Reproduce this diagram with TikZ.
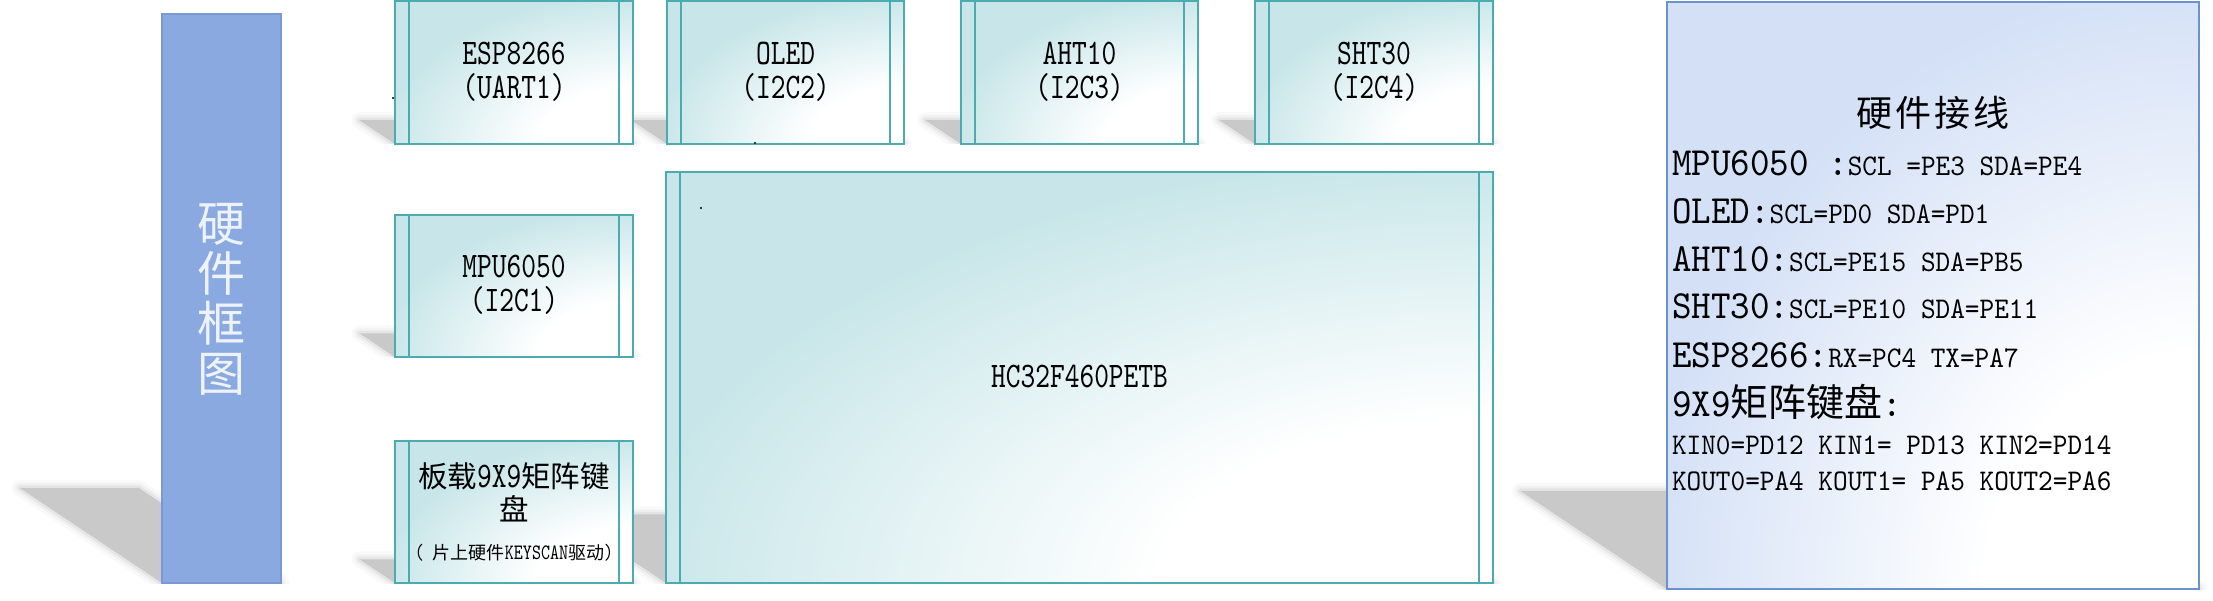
\documentclass[tikz,border=0pt]{standalone}
\usepackage{fontspec}
\setmainfont{Liberation Serif}
\newfontfamily\boxlat{lmmono10-regular.otf}[FakeStretch=0.78]
\newfontfamily\panlat{lmmono10-regular.otf}[FakeStretch=0.93]
\newfontfamily\cjk{Noto Sans CJK SC}
\usetikzlibrary{calc}
\definecolor{tealline}{HTML}{4BACB0}
\definecolor{tealfill}{HTML}{C8E6E9}
\definecolor{bluebarfill}{HTML}{8AA9E0}
\definecolor{bluebarline}{HTML}{7A98D2}
\definecolor{panelfill}{HTML}{D3E0F6}
\definecolor{panelline}{HTML}{6A93CC}
\definecolor{shadowgray}{HTML}{C9C9C9}
\definecolor{bartext}{HTML}{EEF2FA}
\pgfdeclareradialshading[tealfill]{tealglow}{\pgfpoint{0bp}{0bp}}{color(0bp)=(white); color(5bp)=(white); color(13bp)=(tealfill); color(50bp)=(tealfill)}
\pgfdeclareradialshading[panelfill]{blueglow}{\pgfpoint{0bp}{0bp}}{color(0bp)=(white); color(5bp)=(white); color(13bp)=(panelfill); color(50bp)=(panelfill)}
\newcommand\fbx{\boxlat\fontsize{36pt}{36pt}\selectfont}
\newcommand\fkey{\boxlat\fontsize{22pt}{22pt}\selectfont}
\newcommand\fbig{\panlat\fontsize{40pt}{40pt}\selectfont}
\newcommand\fsml{\panlat\fontsize{30pt}{30pt}\selectfont}
\newcommand\fcjk[2]{\cjk\fontsize{#1}{#2}\selectfont}
\newcommand\mkshadow[4]{%
  \pgfmathsetmacro\sdx{0.25*#4}%
  \pgfmathsetmacro\sdy{0.167*#4}%
  \begin{scope}
    \clip (-50,-50) rectangle (2300,#3);
    \foreach \lw/\op in {16/0.10,10/0.18,5/0.3}{%
      \draw[shadowgray, line width=\lw pt, draw opacity=\op, line join=round]
        ({#1-\sdx},{#3-\sdy}) -- ({#2-\sdx},{#3-\sdy}) -- (#2,#3) -- (#1,#3) -- cycle;}
    \fill[shadowgray] ({#1-\sdx},{#3-\sdy}) -- ({#2-\sdx},{#3-\sdy}) -- (#2,#3) -- (#1,#3) -- cycle;
  \end{scope}}
\tikzset{
  tealbox/.style={draw=tealline, line width=1.4pt, minimum width=238pt, minimum height=143pt,
    inner sep=0pt, outer sep=0pt,
    path picture={
      \shade[shading=tealglow] let \p1=(path picture bounding box.south west),
        \p2=(path picture bounding box.north east) in
        (\x2,\y1) ellipse [x radius={2*(\x2-\x1)}, y radius={2*(\y2-\y1)}];
      \draw[tealline, line width=1.2pt] ([xshift=14pt]path picture bounding box.north west)
        -- ([xshift=14pt]path picture bounding box.south west);
      \draw[tealline, line width=1.2pt] ([xshift=-14pt]path picture bounding box.north east)
        -- ([xshift=-14pt]path picture bounding box.south east);
    }},
  panelbox/.style={draw=panelline, line width=1.6pt, inner sep=0pt, outer sep=0pt,
    path picture={
      \shade[shading=blueglow] let \p1=(path picture bounding box.south west),
        \p2=(path picture bounding box.north east) in
        (\x2,\y1) ellipse [x radius={2*(\x2-\x1)}, y radius={2*(\y2-\y1)}];
    }},
  barbox/.style={draw=bluebarline, fill=bluebarfill, line width=1.2pt, inner sep=0pt},
  txt/.style={inner sep=0pt, outer sep=0pt, anchor=base, text height=20pt, text depth=0pt},
  ptxt/.style={txt, anchor=base west},
}
\begin{document}
\begin{tikzpicture}[x=1pt,y=-1pt]
\useasboundingbox (0,0) rectangle (2213,601);
% shadows
\mkshadow{162}{281}{583}{569}
\mkshadow{395}{633}{144}{143}
\mkshadow{667}{904}{144}{143}
\mkshadow{961}{1198}{144}{143}
\mkshadow{1255}{1493}{144}{143}
\mkshadow{395}{633}{357}{142}
\mkshadow{395}{633}{583}{142}
\mkshadow{666}{1493}{583}{411}
\mkshadow{1667}{2199}{589}{587}
% blue bar
\node[barbox, minimum width=119pt, minimum height=569pt] (bar) at (221.5,298.5) {};
\node[inner sep=0pt, align=center, text=bartext, font=\fcjk{48pt}{50pt}] (barT) at (221.5,299) {硬\\件\\框\\图};
% teal boxes
\node[tealbox] (esp) at (514,72.5) {};
\node[tealbox, minimum width=237pt] (oled) at (785.5,72.5) {};
\node[tealbox, minimum width=237pt] (aht) at (1079.5,72.5) {};
\node[tealbox] (sht) at (1374,72.5) {};
\node[tealbox, minimum height=142pt] (mpu) at (514,286) {};
\node[tealbox, minimum height=142pt] (kbd) at (514,512) {};
\node[tealbox, minimum width=827pt, minimum height=411pt] (hc) at (1079.5,377.5) {};
% panel
\node[panelbox, minimum width=532pt, minimum height=587pt] (panel) at (1933,295.5) {};
% box texts
\node[txt] (espA) at (514,65) {\fbx ESP8266};
\node[txt] (espB) at (514,99) {\fbx (UART1)};
\node[txt] (oledA) at (785.5,65) {\fbx OLED};
\node[txt] (oledB) at (785.5,99) {\fbx (I2C2)};
\node[txt] (ahtA) at (1079.5,65) {\fbx AHT10};
\node[txt] (ahtB) at (1079.5,99) {\fbx (I2C3)};
\node[txt] (shtA) at (1374,65) {\fbx SHT30};
\node[txt] (shtB) at (1374,99) {\fbx (I2C4)};
\node[txt] (mpuA) at (514,278) {\fbx MPU6050};
\node[txt] (mpuB) at (514,312) {\fbx (I2C1)};
\node[txt] (kbdA) at (514,487) {{\fcjk{29.5pt}{30pt}板载}{\fbx 9X9}{\fcjk{29.5pt}{30pt}矩阵键}};
\node[txt] (kbdB) at (514,520) {\fcjk{29.5pt}{30pt}盘};
\node[txt, text height=14pt] (kbdC) at (514,559) {{\fkey( }{\fcjk{18pt}{18pt}片上硬件}{\fkey KEYSCAN}{\fcjk{18pt}{18pt}驱动}{\fkey )}};
\node[txt] (hcA) at (1079.5,388) {\fbx HC32F460PETB};
% panel texts
\node[txt] (pT) at (1933,127) {\fcjk{36pt}{36pt}硬\hspace{3pt}件\hspace{3pt}接\hspace{3pt}线};
\node[ptxt] (p1) at (1672,176) {\fbig MPU6050 :\fsml SCL =PE3 SDA=PE4};
\node[ptxt] (p2) at (1672,224) {\fbig OLED:\fsml SCL=PD0 SDA=PD1};
\node[ptxt] (p3) at (1672,272) {\fbig AHT10:\fsml SCL=PE15 SDA=PB5};
\node[ptxt] (p4) at (1672,319) {\fbig SHT30:\fsml SCL=PE10 SDA=PE11};
\node[ptxt] (p5) at (1672,367) {\fbig ESP8266:\fsml RX=PC4 TX=PA7};
\node[ptxt] (p6) at (1672,416) {\fbig 9X9{\fcjk{38pt}{38pt}矩阵键盘}:};
\node[ptxt] (p7) at (1672,454) {\fsml KIN0=PD12 KIN1= PD13 KIN2=PD14};
\node[ptxt] (p8) at (1672,490) {\fsml KOUT0=PA4 KOUT1= PA5 KOUT2=PA6};
% stray dots
\fill (393,98) circle (1.1);
\fill (755,143) circle (1.1);
\fill (701,208) circle (1.1);
\end{tikzpicture}
\end{document}
